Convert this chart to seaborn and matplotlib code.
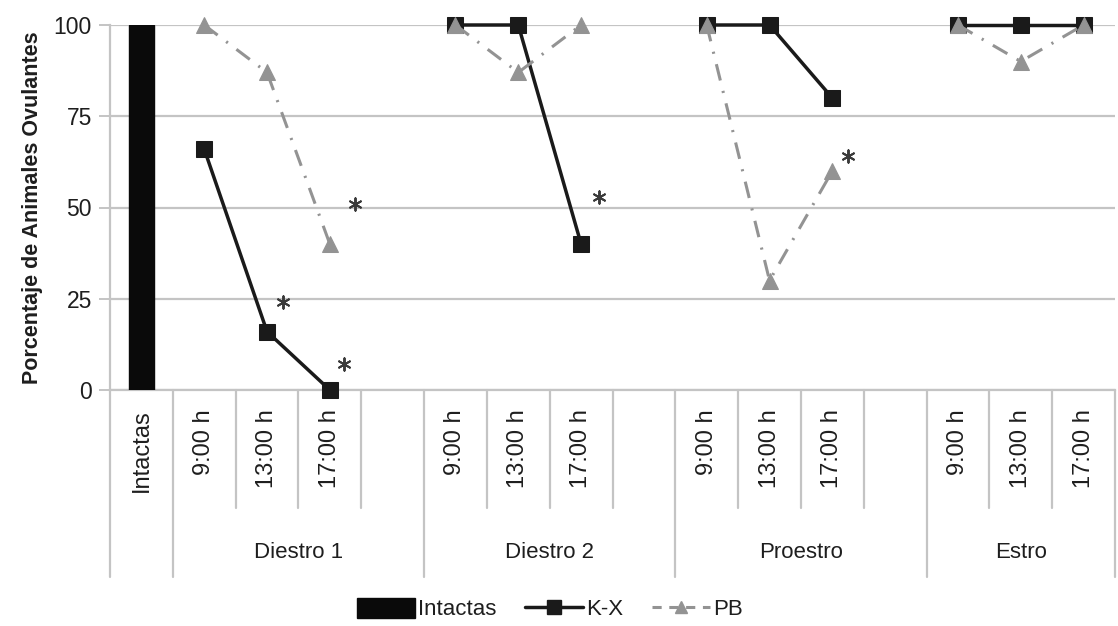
import matplotlib
matplotlib.use("Agg")
import matplotlib.pyplot as plt
from matplotlib.lines import Line2D
from matplotlib.patches import Patch
import matplotlib.transforms as mtransforms
import seaborn as sns
import pandas as pd

# ---------------- data ----------------
groups = ["Diestro 1", "Diestro 2", "Proestro", "Estro"]
times = ["9:00 h", "13:00 h", "17:00 h"]
intactas_value = [100]
kx_values = [[66, 16, 0], [100, 100, 40], [100, 100, 80], [100, 100, 100]]
pb_values = [[100, 87, 40], [100, 87, 100], [100, 30, 60], [100, 90, 100]]
# asterisks: (group index, time index, y value)
asterisks = [(0, 1, 24), (0, 2, 7), (0, 2, 51), (1, 2, 53), (2, 2, 64)]
asterisk_dx = [0.25, 0.22, 0.4, 0.28, 0.25]
y_ticks = [0, 25, 50, 75, 100]

# ---------------- category layout ----------------
order = ["Intactas"]
for gi, g in enumerate(groups):
    for t in times:
        order.append(f"{g}|{t}")
    if gi < len(groups) - 1:
        order.append(f"{g}|blank")

def pos(gi, ti):
    return order.index(f"{groups[gi]}|{times[ti]}")

rows = []
for gi, g in enumerate(groups):
    for ti, t in enumerate(times):
        rows.append(dict(pos=pos(gi, ti), group=g, series="K-X", val=kx_values[gi][ti]))
        rows.append(dict(pos=pos(gi, ti), group=g, series="PB", val=pb_values[gi][ti]))
df = pd.DataFrame(rows)
bar_df = pd.DataFrame(dict(cat=["Intactas"], val=intactas_value))
ast_df = pd.DataFrame(dict(x=[pos(g, t) + dx for (g, t, _), dx in zip(asterisks, asterisk_dx)],
                           y=[v for _, _, v in asterisks]))

# ---------------- figure ----------------
sns.set_theme(style="white")
plt.rcParams["font.family"] = ["Liberation Sans", "DejaVu Sans"]

W, H = 1118, 626
fig = plt.figure(figsize=(W / 100, H / 100), dpi=100)
L, R, T, B = 110, 1115, 25, 390
ax = fig.add_axes([L / W, 1 - B / H, (R - L) / W, (B - T) / H])

grid_c = "#c4c4c4"
txt_c = "#1e1e1e"
sns.barplot(data=bar_df, x="cat", y="val", order=order, color="#0a0a0a",
            width=0.41, saturation=1, ax=ax, zorder=3)
for p in ax.patches:
    p.set_edgecolor("#0a0a0a")

kx_df = df[df.series == "K-X"]
pb_df = df[df.series == "PB"]
n0 = len(ax.lines)
sns.lineplot(data=kx_df, x="pos", y="val", units="group", estimator=None,
             color="#1a1a1a", linewidth=2.5, marker="s", markersize=12,
             markeredgecolor="#1a1a1a", ax=ax, zorder=4, legend=False)
n1 = len(ax.lines)
sns.lineplot(data=pb_df, x="pos", y="val", units="group", estimator=None,
             color="#939393", linewidth=2.2, marker="^", markersize=11,
             markeredgecolor="#939393", ax=ax, zorder=5, legend=False)
for ln in ax.lines[n0:n1]:
    ln.set_clip_on(False)
for ln in ax.lines[n1:]:
    ln.set_clip_on(False)
    ln.set_dashes((5.5, 3.5, 0.7, 3.5))

sns.scatterplot(data=ast_df, x="x", y="y", marker=(6, 2, 0), s=80,
                color="#3a3a3a", linewidth=1.4, ax=ax, zorder=6, legend=False)

ax.set_xlim(-0.5, len(order) - 0.5)
ax.set_ylim(0, 100)
ax.set_yticks(y_ticks)
ax.set_yticklabels([str(v) for v in y_ticks], fontsize=16.5, color=txt_c)
ax.yaxis.grid(True, color=grid_c, linewidth=1.6)
ax.set_axisbelow(True)
ax.tick_params(axis="y", left=True, length=8, width=1.4, color=grid_c, pad=5)
ax.tick_params(axis="x", bottom=False, labelbottom=False)
ax.set_xlabel("")
ax.set_ylabel("Porcentaje de Animales Ovulantes", fontsize=15.5, fontweight="bold",
              color=txt_c, labelpad=8)
for s in ["top", "right"]:
    ax.spines[s].set_visible(False)
ax.spines["left"].set_color(grid_c)
ax.spines["left"].set_linewidth(1.6)
ax.spines["bottom"].set_color(grid_c)
ax.spines["bottom"].set_linewidth(1.6)

# ---------------- multi-level category axis ----------------
trans = mtransforms.blended_transform_factory(ax.transData, ax.transAxes)
ax_h = B - T
def yfrac(px):
    return -(px - B) / ax_h

short_y = yfrac(508)
long_y = yfrac(577)
label_y = yfrac(409)
group_y = yfrac(553)

long_bounds = {-0.5, 0.5, len(order) - 0.5}
for gi in range(len(groups) - 1):
    long_bounds.add(order.index(f"{groups[gi]}|blank") + 0.5)
for k in range(len(order) + 1):
    xb = k - 0.5
    yb = long_y if xb in long_bounds else short_y
    ax.plot([xb, xb], [0, yb], transform=trans, color=grid_c, linewidth=1.6,
            clip_on=False, zorder=1)

ax.text(0, label_y, "Intactas", transform=trans, rotation=90, ha="center",
        va="top", fontsize=17, color=txt_c)
for gi, g in enumerate(groups):
    for ti, t in enumerate(times):
        ax.text(pos(gi, ti), label_y, t, transform=trans, rotation=90,
                ha="center", va="top", fontsize=17, color=txt_c)
    start = pos(gi, 0) - 0.5
    end = start + (4 if gi < len(groups) - 1 else 3)
    ax.text((start + end) / 2, group_y, g, transform=trans, ha="center",
            va="center", fontsize=16, color=txt_c)

# ---------------- legend ----------------
handles = [
    Patch(facecolor="#0a0a0a", edgecolor="#0a0a0a"),
    Line2D([], [], color="#1a1a1a", linewidth=2.5, marker="s", markersize=10),
    Line2D([], [], color="#939393", linewidth=2.2, marker="^", markersize=9,
           dashes=(3, 2.5)),
]
fig.legend(handles, ["Intactas", "K-X", "PB"], loc="center",
           bbox_to_anchor=(550 / W, 1 - 609 / H), ncol=3, frameon=False,
           fontsize=16, handlelength=2.6, handletextpad=0.15, columnspacing=1.3,
           handleheight=1.0, labelcolor=txt_c)

fig.savefig("out.png", dpi=100, facecolor="white")
